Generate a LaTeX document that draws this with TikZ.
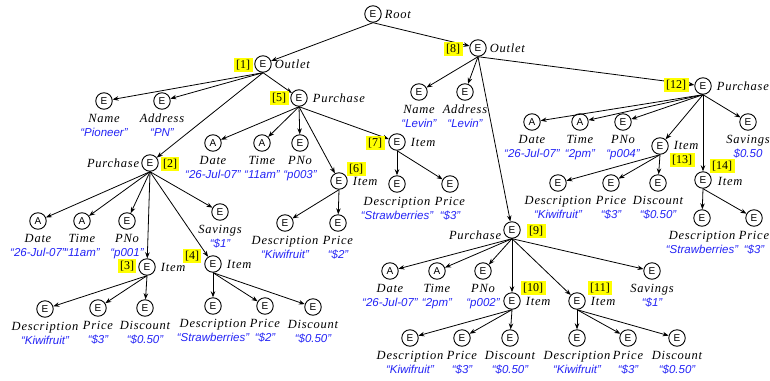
\documentclass[tikz,border=0pt]{standalone}
\usepackage{fontspec}
\setmainfont{Liberation Serif}
\newfontfamily\lblfont[LetterSpace=6]{Liberation Serif}
\newfontfamily\hvfont{Liberation Sans}
\usetikzlibrary{arrows.meta,calc}
\definecolor{valblue}{RGB}{35,35,245}
\definecolor{hl}{RGB}{255,255,0}
\tikzset{
 ent/.style={circle, draw, line width=0.9pt, minimum size=16.5pt, inner sep=0pt, font=\hvfont\fontsize{10}{10}\selectfont},
 lbl/.style={inner sep=1pt, font=\lblfont\itshape\fontsize{12.5}{13}\selectfont},
 val/.style={inner sep=1pt, text=valblue, font=\hvfont\itshape\fontsize{11.5}{12}\selectfont},
 tag/.style={fill=hl, inner xsep=2.5pt, inner ysep=0pt, minimum height=13.5pt, font=\fontsize{12}{12}\selectfont},
 edge/.style={line width=0.8pt, -{Stealth[length=6pt,width=4.5pt]}},
}
\newcommand{\mkleaf}[6]{%
 \node[ent] (#1) at (#2) {#3};
 \node[lbl, anchor=base] (#1-l) at ($(#1)+(0,21)$) {#4};
 \node[val, anchor=base] (#1-v) at ($(#1)+(0,35)$) {#5};
 \draw[edge] (#6.south) -- (#1);}
\begin{document}
\begin{tikzpicture}[x=1pt,y=-1pt]
\useasboundingbox (0,0) rectangle (770,380);
% internal nodes
\node[ent] (root) at (373,14) {E};
\node[ent] (o1) at (263,64) {E};
\node[ent] (o8) at (478,48) {E};
\node[ent] (p2) at (150,163) {E};
\node[ent] (p5) at (299,98) {E};
\node[ent] (i3) at (147,267) {E};
\node[ent] (i4) at (213,264) {E};
\node[ent] (i6) at (339,181) {E};
\node[ent] (i7) at (397,142) {E};
\node[ent] (p9) at (512,230) {E};
\node[ent] (i10) at (512,301) {E};
\node[ent] (i11) at (577,301) {E};
\node[ent] (p12) at (703,86) {E};
\node[ent] (i13) at (660,146) {E};
\node[ent] (i14) at (703,180) {E};
% internal labels
\node[lbl, anchor=west] (rootl) at ([xshift=2pt]root.east) {Root};
\node[lbl, anchor=west] (o1l) at ([xshift=2pt]o1.east) {Outlet};
\node[lbl, anchor=west] (o8l) at ([xshift=2pt]o8.east) {Outlet};
\node[lbl, anchor=east] (p2l) at ([xshift=-1pt]p2.west) {Purchase};
\node[lbl, anchor=west] (p5l) at ([xshift=4pt]p5.east) {Purchase};
\node[lbl, anchor=west] (i3l) at ([xshift=4pt]i3.east) {Item};
\node[lbl, anchor=west] (i4l) at ([xshift=4pt]i4.east) {Item};
\node[lbl, anchor=west] (i6l) at ([xshift=4pt]i6.east) {Item};
\node[lbl, anchor=west] (i7l) at ([xshift=4pt]i7.east) {Item};
\node[lbl, anchor=east] (p9l) at ([xshift=-1pt,yshift=-5pt]p9.west) {Purchase};
\node[lbl, anchor=west] (i10l) at ([xshift=4pt]i10.east) {Item};
\node[lbl, anchor=west] (i11l) at ([xshift=4pt]i11.east) {Item};
\node[lbl, anchor=west] (p12l) at ([xshift=4pt]p12.east) {Purchase};
\node[lbl, anchor=west] (i13l) at ([xshift=4pt,yshift=1pt]i13.east) {Item};
\node[lbl, anchor=west] (i14l) at ([xshift=5pt,yshift=-1pt]i14.east) {Item};
% internal edges
\draw[edge] (root.south) -- (o1);
\draw[edge] (root.south) -- (o8);
\draw[edge] (o1.south) -- (p2);
\draw[edge] (o1.south) -- (p5);
\draw[edge] (p2.south) -- (i3);
\draw[edge] (p2.south) -- (i4);
\draw[edge] (p5.south) -- (i6);
\draw[edge] (p5.south) -- (i7);
\draw[edge] (o8.south) -- (p9);
\draw[edge] (o8.south) -- (p12);
\draw[edge] (p9.south) -- (i10);
\draw[edge] (p9.south) -- (i11);
\draw[edge] (p12.south) -- (i13);
\draw[edge] (p12.south) -- (i14);
% leaves
\mkleaf{n1}{104,101}{E}{Name}{“Pioneer”}{o1}
\mkleaf{a1}{162,101}{E}{Address}{“PN”}{o1}
\mkleaf{p2d}{38,221}{A}{Date}{“26-Jul-07”}{p2}
\mkleaf{p2t}{82,221}{A}{Time}{“11am”}{p2}
\mkleaf{p2n}{127,221}{E}{PNo}{“p001”}{p2}
\mkleaf{p2s}{220,212}{E}{Savings}{“\$1”}{p2}
\mkleaf{i3d}{45,309}{E}{Description}{“Kiwifruit”}{i3}
\mkleaf{i3p}{98,308}{E}{Price}{“\$3”}{i3}
\mkleaf{i3c}{145,308}{E}{Discount}{“\$0.50”}{i3}
\mkleaf{i4d}{213,306}{E}{Description}{“Strawberries”}{i4}
\mkleaf{i4p}{265,306}{E}{Price}{“\$2”}{i4}
\mkleaf{i4c}{313,307}{E}{Discount}{“\$0.50”}{i4}
\mkleaf{p5d}{213,143}{A}{Date}{“26-Jul-07”}{p5}
\mkleaf{p5t}{262,143}{A}{Time}{“11am”}{p5}
\mkleaf{p5n}{300,143}{E}{PNo}{“p003”}{p5}
\mkleaf{i6d}{285,223}{E}{Description}{“Kiwifruit”}{i6}
\mkleaf{i6p}{338,223}{E}{Price}{“\$2”}{i6}
\mkleaf{i7d}{397,184}{E}{Description}{“Strawberries”}{i7}
\mkleaf{i7p}{450,184}{E}{Price}{“\$3”}{i7}
\mkleaf{n8}{419,92}{E}{Name}{“Levin”}{o8}
\mkleaf{a8}{465,92}{E}{Address}{“Levin”}{o8}
\mkleaf{p9d}{390,271}{A}{Date}{“26-Jul-07”}{p9}
\mkleaf{p9t}{437,271}{A}{Time}{“2pm”}{p9}
\mkleaf{p9n}{483,271}{E}{PNo}{“p002”}{p9}
\mkleaf{p9s}{652,271}{E}{Savings}{“\$1”}{p9}
\mkleaf{i10d}{410,338}{E}{Description}{“Kiwifruit”}{i10}
\mkleaf{i10p}{462,338}{E}{Price}{“\$3”}{i10}
\mkleaf{i10c}{510,338}{E}{Discount}{“\$0.50”}{i10}
\mkleaf{i11d}{577,338}{E}{Description}{“Kiwifruit”}{i11}
\mkleaf{i11p}{628,338}{E}{Price}{“\$3”}{i11}
\mkleaf{i11c}{677,338}{E}{Discount}{“\$0.50”}{i11}
\mkleaf{p12d}{532,122}{A}{Date}{“26-Jul-07”}{p12}
\mkleaf{p12t}{580,122}{A}{Time}{“2pm”}{p12}
\mkleaf{p12n}{623,122}{E}{PNo}{“p004”}{p12}
\mkleaf{p12s}{748,122}{E}{Savings}{\$0.50}{p12}
\mkleaf{i13d}{558,183}{E}{Description}{“Kiwifruit”}{i13}
\mkleaf{i13p}{611,183}{E}{Price}{“\$3”}{i13}
\mkleaf{i13c}{658,183}{E}{Discount}{“\$0.50”}{i13}
\mkleaf{i14d}{702,218}{E}{Description}{“Strawberries”}{i14}
\mkleaf{i14p}{754,218}{E}{Price}{“\$3”}{i14}
% tags
\node[tag] (t1) at (243,65) {[1]};
\node[tag] (t2) at (170,164) {[2]};
\node[tag] (t3) at (127,266) {[3]};
\node[tag] (t4) at (192,256) {[4]};
\node[tag] (t5) at (279,98) {[5]};
\node[tag] (t6) at (356,169) {[6]};
\node[tag] (t7) at (375,143) {[7]};
\node[tag] (t8) at (453,49) {[8]};
\node[tag] (t9) at (536,231) {[9]};
\node[tag] (t10) at (533,288) {[10]};
\node[tag] (t11) at (600,288) {[11]};
\node[tag] (t12) at (676,85) {[12]};
\node[tag] (t13) at (682,160) {[13]};
\node[tag] (t14) at (722,166) {[14]};
\end{tikzpicture}
\end{document}
